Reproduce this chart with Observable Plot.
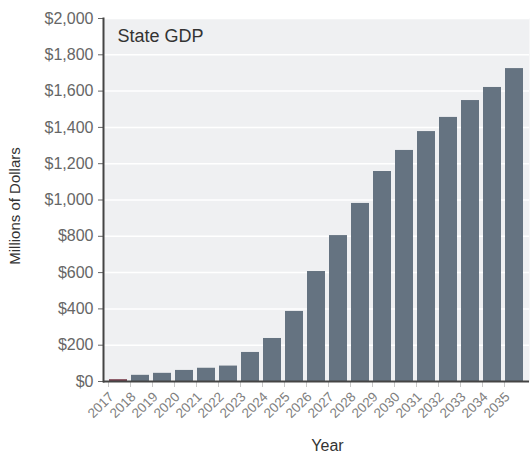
<!DOCTYPE html>
<html>
<head>
<meta charset="utf-8">
<script src="https://cdn.jsdelivr.net/npm/d3@7"></script>
<script src="https://cdn.jsdelivr.net/npm/@observablehq/plot@0.6"></script>
<style>
  html, body { margin: 0; padding: 0; background: #fff; }
  #chart svg { display: block; font-family: "Liberation Sans", Arial, sans-serif; }
</style>
</head>
<body>
<div id="chart"></div>
<script>
const years = ["2017","2018","2019","2020","2021","2022","2023","2024","2025","2026","2027","2028","2029","2030","2031","2032","2033","2034","2035"];
const gdp = [10, 34, 45, 61, 73, 85, 160, 237, 386, 606, 804, 981, 1157, 1273, 1377, 1455, 1548, 1620, 1724];
const yTicks = [0, 200, 400, 600, 800, 1000, 1200, 1400, 1600, 1800, 2000];
const title = "State GDP";
const xLabel = "Year";
const yLabel = "Millions of Dollars";

const data = years.map((year, i) => ({year, value: gdp[i]}));

const chart = Plot.plot({
  width: 531,
  height: 452,
  marginTop: 18,
  marginBottom: 71,
  marginLeft: 103,
  marginRight: 2,
  style: {fontFamily: "Liberation Sans, Arial, sans-serif", background: "#fff"},
  x: {domain: years, padding: 0.16, paddingOuter: 0, label: null},
  y: {domain: [0, 2000], label: null},
  marks: [
    Plot.frame({fill: "#eff0f2", stroke: null}),
    Plot.gridY(yTicks, {stroke: "#fff", strokeOpacity: 1, strokeWidth: 1.5}),
    Plot.barY(data, {x: "year", y: "value", fill: d => d.year === "2017" ? "#7a3f4e" : "#657381"}),
    Plot.axisY(yTicks, {tickSize: 5, tickPadding: 5, tickFormat: d => "$" + d3.format(",")(d), fontSize: 16, fill: "#666", stroke: "#666", label: null}),
    Plot.axisX({tickSize: 0, tickPadding: 13, tickRotate: -45, dx: -7, fontSize: 13.5, fill: "#808080", label: null}),
    Plot.axisX({text: null, tickSize: 6, dx: -10, stroke: "#c8c8c8", label: null}),
    Plot.frame({anchor: "left", stroke: "#444", strokeWidth: 2}),
    Plot.ruleY([0], {stroke: "#444", strokeWidth: 2}),
    Plot.text([title], {frameAnchor: "top-left", dx: 14, dy: 11, lineAnchor: "top", textAnchor: "start", fontSize: 18, fill: "#333"}),
    Plot.text([xLabel], {frameAnchor: "bottom", dx: 11, dy: 69, lineAnchor: "bottom", textAnchor: "middle", fontSize: 16, fill: "#333"}),
    Plot.text([yLabel], {frameAnchor: "left", dx: -88, dy: 6, rotate: -90, lineAnchor: "middle", textAnchor: "middle", fontSize: 15, fill: "#333"})
  ]
});
document.getElementById("chart").appendChild(chart);
</script>
</body>
</html>
